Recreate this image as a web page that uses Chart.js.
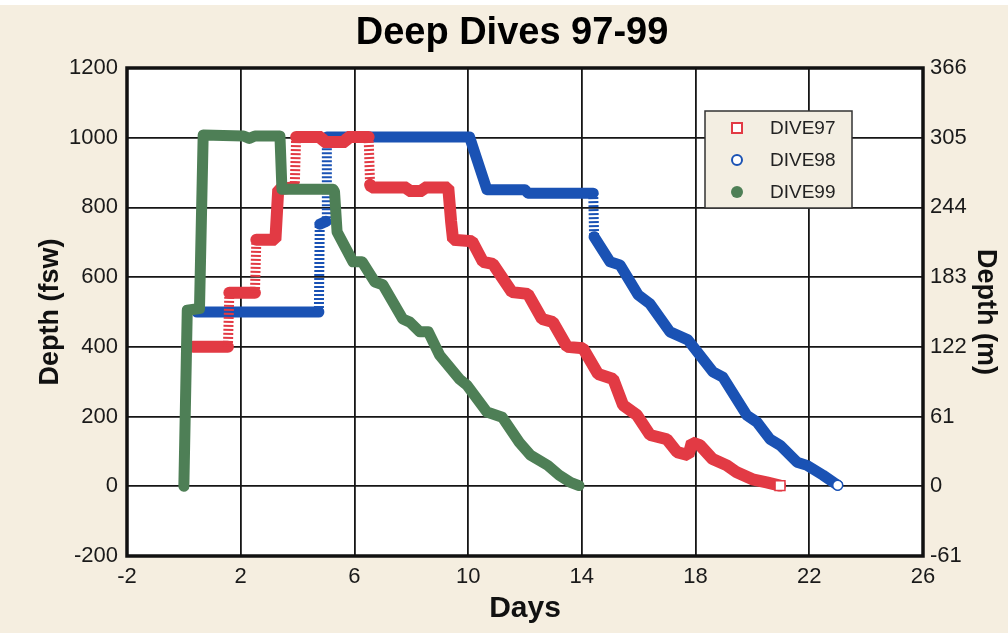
<!DOCTYPE html>
<html>
<head>
<meta charset="utf-8">
<script src="https://cdn.jsdelivr.net/npm/chart.js@4.4.1/dist/chart.umd.min.js"></script>
<style>
  html, body { margin: 0; padding: 0; background: #ffffff; }
  #wrap { width: 1008px; height: 633px; }
</style>
</head>
<body>
<div id="wrap"><canvas id="c" width="1008" height="633"></canvas></div>
<script>
// ---------------- data ----------------
const chartTitle = 'Deep Dives 97-99';
const xAxisTitle = 'Days';
const yAxisTitle = 'Depth (fsw)';
const yRightAxisTitle = 'Depth (m)';
const seriesNames = ['DIVE97', 'DIVE98', 'DIVE99'];

const days97  = [0.32, 1.55, 1.60, 2.50, 2.55, 3.22, 3.32, 3.90, 3.95, 4.85, 4.90, 5.70, 5.75, 6.50, 6.55, 6.60, 7.85, 7.90, 8.40, 8.45, 9.30, 9.40, 9.47, 10.14, 10.52, 10.87, 11.54, 12.10, 12.60, 12.98, 13.48, 14.04, 14.57, 15.10, 15.45, 15.94, 16.40, 16.99, 17.35, 17.75, 17.87, 18.15, 18.60, 19.10, 19.45, 20.00, 20.50, 20.97];
const depth97 = [400, 400, 555, 555, 707, 707, 852, 858, 1002, 1002, 988, 988, 1002, 1002, 865, 857, 857, 847, 847, 857, 857, 760, 707, 703, 644, 638, 557, 552, 480, 471, 400, 396, 322, 308, 233, 204, 147, 135, 98, 89, 126, 118, 78, 60, 40, 20, 11, 2];

const days98  = [0.46, 4.75, 4.78, 5.00, 5.03, 10.05, 10.66, 12.00, 12.10, 14.40, 14.43, 14.99, 15.34, 15.98, 16.40, 17.10, 17.73, 18.61, 18.96, 19.80, 20.16, 20.62, 20.97, 21.57, 21.92, 22.48, 23.00];
const depth98 = [500, 500, 752, 760, 1002, 1002, 851, 851, 841, 841, 716, 644, 635, 549, 523, 443, 420, 328, 313, 204, 184, 135, 118, 69, 60, 32, 3];

const days99  = [0.00, 0.12, 0.55, 0.68, 2.10, 2.30, 2.50, 3.38, 3.45, 5.25, 5.30, 5.39, 5.95, 6.27, 6.72, 7.00, 7.70, 7.95, 8.30, 8.60, 9.00, 9.70, 9.96, 10.66, 11.20, 11.80, 12.20, 12.80, 13.20, 13.60, 13.90];
const depth99 = [0, 505, 510, 1008, 1005, 998, 1005, 1005, 852, 852, 845, 730, 644, 644, 586, 578, 480, 471, 443, 443, 376, 307, 290, 213, 198, 126, 89, 60, 32, 11, 2];

const xTickValues = [-2, 2, 6, 10, 14, 18, 22, 26];
const yTickValues = [-200, 0, 200, 400, 600, 800, 1000, 1200];
const yRightTickLabels = ['-61', '0', '61', '122', '183', '244', '305', '366'];

// ---------------- styling ----------------
const FONT = "'Liberation Sans', Arial, Helvetica, sans-serif";
const colors = ['#e23a44', '#1a52b4', '#4e7f56'];
const BEIGE = '#f5eee0';

function toPoints(xs, ys) { return xs.map((x, i) => ({ x: x, y: ys[i] })); }

// vertical jumps drawn with sparse hollow markers (ladder look)
function isLadder(ctx) {
  if (ctx.datasetIndex === 2) return false;
  const dx = Math.abs(ctx.p1.parsed.x - ctx.p0.parsed.x);
  const dy = Math.abs(ctx.p1.parsed.y - ctx.p0.parsed.y);
  return dx < 0.06 && dy > 50;
}
function lastOnly(r) {
  return ctx => (ctx.dataIndex === ctx.dataset.data.length - 1 ? r : 0);
}

const decor = {
  id: 'decor',
  beforeDraw(chart) {
    const { ctx, chartArea: a } = chart;
    ctx.save();
    ctx.fillStyle = BEIGE;
    ctx.fillRect(0, 0, chart.width, chart.height);
    ctx.fillStyle = '#ffffff';
    ctx.fillRect(0, 0, chart.width, 5);
    ctx.fillRect(a.left, a.top, a.right - a.left, a.bottom - a.top);
    ctx.restore();
  },
  afterDatasetsDraw(chart) {
    const { ctx, chartArea: a } = chart;
    ctx.save();
    ctx.strokeStyle = '#111';
    ctx.lineWidth = 3.5;
    ctx.strokeRect(a.left, a.top, a.right - a.left, a.bottom - a.top);
    // legend box
    const bx = a.right - 218, by = a.top + 43, bw = 147, bh = 97;
    ctx.fillStyle = '#f3eee2';
    ctx.fillRect(bx, by, bw, bh);
    ctx.strokeStyle = '#333';
    ctx.lineWidth = 1.5;
    ctx.strokeRect(bx, by, bw, bh);
    ctx.font = '19px ' + FONT;
    ctx.textBaseline = 'middle';
    ctx.textAlign = 'left';
    seriesNames.forEach((name, i) => {
      const cy = by + 17 + i * 32;
      const mx = bx + 32;
      ctx.lineWidth = 2;
      ctx.strokeStyle = colors[i];
      if (i === 0) {
        ctx.fillStyle = '#fff';
        ctx.fillRect(mx - 5, cy - 5, 10, 10);
        ctx.strokeRect(mx - 5, cy - 5, 10, 10);
      } else if (i === 1) {
        ctx.fillStyle = '#fff';
        ctx.beginPath(); ctx.arc(mx, cy, 5, 0, Math.PI * 2); ctx.fill(); ctx.stroke();
      } else {
        ctx.fillStyle = colors[i];
        ctx.beginPath(); ctx.arc(mx, cy, 6, 0, Math.PI * 2); ctx.fill();
      }
      ctx.fillStyle = '#222';
      ctx.fillText(name, bx + 65, cy + 1);
    });
    ctx.restore();
  }
};

const tickFont = { family: FONT, size: 22 };
const xTitleFont = { family: FONT, size: 30, weight: 'bold' };
const yTitleFont = { family: FONT, size: 27, weight: 'bold' };
const gridOpts = { color: '#161616', lineWidth: 1.8, drawTicks: false };

new Chart(document.getElementById('c'), {
  type: 'scatter',
  data: {
    datasets: [
      {
        label: seriesNames[0], data: toPoints(days97, depth97), order: 1,
        borderColor: colors[0], backgroundColor: '#ffffff', borderWidth: 12,
        borderJoinStyle: 'bevel', borderCapStyle: 'round',
        pointStyle: 'rect', pointRadius: lastOnly(7), pointBorderWidth: 1.5, pointBorderColor: colors[0]
      },
      {
        label: seriesNames[1], data: toPoints(days98, depth98), order: 2,
        borderColor: colors[1], backgroundColor: '#ffffff', borderWidth: 11,
        pointStyle: 'circle', pointRadius: lastOnly(5), pointBorderWidth: 1.5, pointBorderColor: colors[1]
      },
      {
        label: seriesNames[2], data: toPoints(days99, depth99), order: 0,
        borderColor: colors[2], backgroundColor: colors[2], borderWidth: 11,
        pointStyle: 'circle', pointRadius: 0
      }
    ]
  },
  options: {
    responsive: false,
    animation: false,
    events: [],
    layout: { padding: { left: 16, right: 0, top: 0, bottom: 0 } },
    datasets: {
      scatter: {
        showLine: true,
        borderCapStyle: 'round',
        borderJoinStyle: 'round',
        tension: 0,
        segment: {
          borderDash: ctx => (isLadder(ctx) ? [2, 2] : undefined),
          borderCapStyle: ctx => (isLadder(ctx) ? 'butt' : undefined),
          borderWidth: ctx => (isLadder(ctx) ? 10 : undefined)
        }
      }
    },
    plugins: {
      legend: { display: false },
      tooltip: { enabled: false },
      title: {
        display: true, text: chartTitle, color: '#000',
        font: { family: FONT, size: 38, weight: 'bold' },
        padding: { top: 11, bottom: 11.4 }
      }
    },
    scales: {
      x: {
        type: 'linear', min: -2, max: 26,
        afterBuildTicks: s => { s.ticks = xTickValues.map(v => ({ value: v })); },
        afterFit: s => { s.height = 77; },
        grid: gridOpts, border: { display: false },
        ticks: { font: tickFont, color: '#1a1a1a', padding: 8, maxRotation: 0, autoSkip: false, callback: v => String(v) },
        title: { display: true, text: xAxisTitle, color: '#111', font: xTitleFont, padding: { top: 0, bottom: 6 } }
      },
      y: {
        type: 'linear', position: 'left', min: -200, max: 1200,
        afterBuildTicks: s => { s.ticks = yTickValues.map(v => ({ value: v })); },
        afterFit: s => { s.width = 111; },
        grid: gridOpts, border: { display: false },
        ticks: { font: tickFont, color: '#1a1a1a', padding: 9, autoSkip: false, callback: v => String(v) },
        title: { display: true, text: yAxisTitle, color: '#111', font: yTitleFont, padding: { top: 18, bottom: 0 } }
      },
      y1: {
        type: 'linear', position: 'right', min: -200, max: 1200,
        afterBuildTicks: s => { s.ticks = yTickValues.map(v => ({ value: v })); },
        afterFit: s => { s.width = 85; },
        grid: { display: false, drawTicks: false }, border: { display: false },
        ticks: {
          font: tickFont, color: '#1a1a1a', padding: 7, autoSkip: false,
          callback: v => yRightTickLabels[yTickValues.indexOf(v)]
        },
        title: { display: true, text: yRightAxisTitle, color: '#111', font: yTitleFont, padding: { top: 6, bottom: 0 } }
      }
    }
  },
  plugins: [decor]
});
</script>
</body>
</html>
